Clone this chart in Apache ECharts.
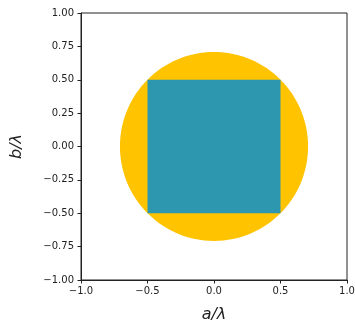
<!DOCTYPE html>
<html>
<head>
<meta charset="utf-8">
<script src="https://cdn.jsdelivr.net/npm/echarts@6/dist/echarts.min.js"></script>
<style>html,body{margin:0;padding:0;background:#fff}#c{width:355px;height:322px}</style>
</head>
<body>
<div id="c"></div>
<script>
// Data
const xTicks = [-1.0, -0.5, 0.0, 0.5, 1.0];
const yTicks = [-1.0, -0.75, -0.5, -0.25, 0.0, 0.25, 0.5, 0.75, 1.0];
const circleData = [[0, 0, 0.7071]];          // center x, center y, radius (a/λ units)
const squareData = [[-0.5, -0.5, 0.5, 0.5]];  // x0, y0, x1, y1

const minus = s => s.replace('-', '\u2212');
const chart = echarts.init(document.getElementById('c'));
chart.setOption({
  animation: false,
  grid: {left: 81, right: 8, top: 13, bottom: 42, containLabel: false, outerBoundsMode: 'none',
         show: true, borderColor: '#222', borderWidth: 1, backgroundColor: 'transparent'},
  xAxis: {
    type: 'value', min: xTicks[0], max: xTicks[xTicks.length-1], interval: 0.5,
    name: 'a/\u03bb', nameLocation: 'middle', nameGap: 27,
    nameTextStyle: {fontFamily: 'DejaVu Sans', fontStyle: 'italic', fontSize: 16, color: '#222'},
    axisLine: {show: true, onZero: false, lineStyle: {color: '#222'}},
    axisTick: {show: true, length: 3.5, lineStyle: {color: '#222'}},
    axisLabel: {margin: 6, fontFamily: 'DejaVu Sans', fontSize: 10, color: '#222', formatter: v => minus(v.toFixed(1))},
    splitLine: {show: false}
  },
  yAxis: {
    type: 'value', min: yTicks[0], max: yTicks[yTicks.length-1], interval: 0.25,
    name: 'b/\u03bb', nameLocation: 'middle', nameGap: 56,
    nameTextStyle: {fontFamily: 'DejaVu Sans', fontStyle: 'italic', fontSize: 16, color: '#222'},
    axisLine: {show: true, onZero: false, lineStyle: {color: '#222'}},
    axisTick: {show: true, length: 3.5, lineStyle: {color: '#222'}},
    axisLabel: {margin: 7, fontFamily: 'DejaVu Sans', fontSize: 10, color: '#222', formatter: v => minus(v.toFixed(2))},
    splitLine: {show: false}
  },
  series: [
    {
      type: 'custom', data: circleData, clip: true,
      renderItem: (params, api) => {
        const c = api.coord([api.value(0), api.value(1)]);
        const r = api.size([api.value(2), api.value(2)]);
        return {type: 'ellipse', shape: {cx: c[0], cy: c[1], rx: r[0], ry: r[1]}, style: {fill: '#FFC300'}};
      }
    },
    {
      type: 'custom', data: squareData, clip: true,
      renderItem: (params, api) => {
        const p0 = api.coord([api.value(0), api.value(3)]);
        const p1 = api.coord([api.value(2), api.value(1)]);
        return {type: 'rect', shape: {x: p0[0], y: p0[1], width: p1[0]-p0[0], height: p1[1]-p0[1]}, style: {fill: '#2E97B0'}};
      }
    }
  ]
});
</script>
</body>
</html>
